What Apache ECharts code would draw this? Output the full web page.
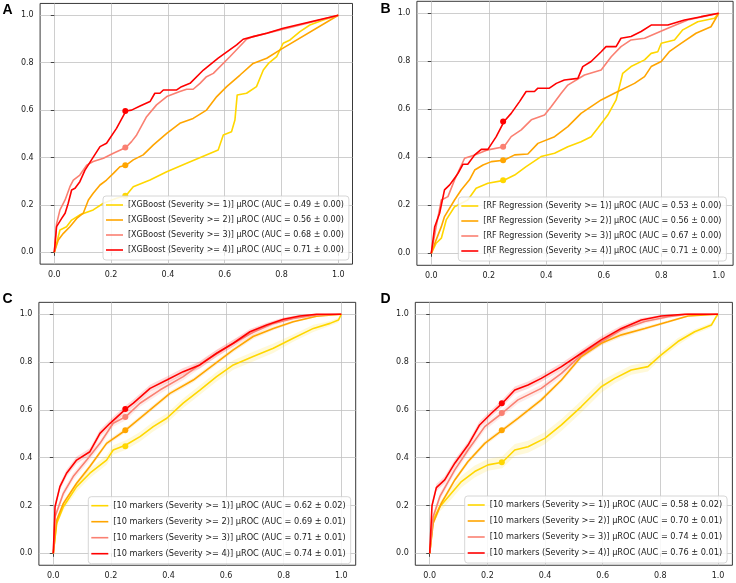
<!DOCTYPE html>
<html><head><meta charset="utf-8">
<script src="https://cdn.jsdelivr.net/npm/echarts@6/dist/echarts.min.js"></script>
<style>html,body{margin:0;padding:0;background:#fff}#c{width:736px;height:583px}</style>
</head><body><div id="c"></div>
<script>
// ---------- DATA ----------
const TICKS = [0, 0.2, 0.4, 0.6, 0.8, 1.0];
const OP_X = 0.25; // operating point x (FPR)

// Panel A: XGBoost
const A_labels = [
  '[XGBoost (Severity >= 1)] µROC (AUC = 0.49 ± 0.00)',
  '[XGBoost (Severity >= 2)] µROC (AUC = 0.56 ± 0.00)',
  '[XGBoost (Severity >= 3)] µROC (AUC = 0.68 ± 0.00)',
  '[XGBoost (Severity >= 4)] µROC (AUC = 0.71 ± 0.00)'
];
const A_sev1 = [[0,0],[0.02,0.094],[0.043,0.108],[0.061,0.136],[0.09,0.158],[0.137,0.179],[0.173,0.207],[0.219,0.228],[0.252,0.239],[0.278,0.277],[0.337,0.305],[0.396,0.34],[0.466,0.376],[0.577,0.432],[0.595,0.495],[0.624,0.509],[0.636,0.558],[0.644,0.664],[0.677,0.671],[0.712,0.699],[0.736,0.769],[0.754,0.797],[0.783,0.826],[0.806,0.882],[0.83,0.896],[0.865,0.931],[0.9,0.959],[0.947,0.98],[1,1]];
const A_sev2 = [[0,0],[0.014,0.052],[0.032,0.08],[0.055,0.108],[0.079,0.143],[0.102,0.165],[0.12,0.221],[0.137,0.249],[0.161,0.284],[0.184,0.305],[0.208,0.333],[0.231,0.361],[0.252,0.367],[0.278,0.39],[0.313,0.411],[0.349,0.453],[0.396,0.502],[0.442,0.544],[0.489,0.565],[0.536,0.6],[0.572,0.657],[0.607,0.699],[0.654,0.748],[0.7,0.797],[0.748,0.819],[0.795,0.854],[1,1]];
const A_sev3 = [[0,0],[0.008,0.12],[0.02,0.179],[0.038,0.221],[0.055,0.277],[0.067,0.305],[0.09,0.326],[0.114,0.368],[0.137,0.383],[0.173,0.397],[0.208,0.418],[0.252,0.442],[0.272,0.467],[0.29,0.495],[0.325,0.572],[0.36,0.622],[0.396,0.657],[0.442,0.678],[0.466,0.688],[0.489,0.688],[0.513,0.713],[0.536,0.741],[0.56,0.755],[0.619,0.826],[0.677,0.899],[0.7,0.91],[0.982,0.994],[1,1]];
const A_sev4 = [[0,0],[0.008,0.108],[0.026,0.143],[0.038,0.165],[0.049,0.207],[0.061,0.263],[0.073,0.27],[0.09,0.298],[0.108,0.347],[0.131,0.39],[0.161,0.446],[0.184,0.46],[0.219,0.523],[0.252,0.596],[0.272,0.6],[0.302,0.617],[0.337,0.636],[0.354,0.671],[0.372,0.671],[0.384,0.685],[0.431,0.685],[0.448,0.699],[0.478,0.713],[0.525,0.769],[0.577,0.819],[0.642,0.875],[0.665,0.899],[0.7,0.91],[0.748,0.924],[0.806,0.945],[1,1]];
const A_dots = [0.239, 0.367, 0.442, 0.596];

// Panel B: RF Regression
const B_labels = [
  '[RF Regression (Severity >= 1)] µROC (AUC = 0.53 ± 0.00)',
  '[RF Regression (Severity >= 2)] µROC (AUC = 0.56 ± 0.00)',
  '[RF Regression (Severity >= 3)] µROC (AUC = 0.67 ± 0.00)',
  '[RF Regression (Severity >= 4)] µROC (AUC = 0.71 ± 0.00)'
];
const B_sev1 = [[0,0],[0.017,0.042],[0.035,0.063],[0.052,0.139],[0.081,0.194],[0.127,0.222],[0.156,0.271],[0.197,0.292],[0.253,0.304],[0.29,0.326],[0.33,0.361],[0.382,0.403],[0.429,0.417],[0.475,0.444],[0.521,0.465],[0.556,0.486],[0.579,0.521],[0.614,0.576],[0.643,0.639],[0.666,0.75],[0.695,0.778],[0.742,0.806],[0.765,0.833],[0.788,0.84],[0.8,0.875],[0.846,0.889],[0.875,0.931],[0.927,0.965],[0.985,0.979],[1,1]];
const B_sev2 = [[0,0],[0.017,0.056],[0.035,0.111],[0.046,0.153],[0.081,0.222],[0.104,0.264],[0.133,0.306],[0.151,0.347],[0.18,0.368],[0.209,0.382],[0.253,0.388],[0.29,0.41],[0.336,0.414],[0.371,0.458],[0.429,0.486],[0.475,0.528],[0.521,0.583],[0.556,0.611],[0.591,0.639],[0.637,0.667],[0.707,0.708],[0.742,0.736],[0.765,0.778],[0.8,0.799],[0.828,0.84],[0.869,0.875],[0.921,0.917],[0.973,0.944],[1,1]];
const B_sev3 = [[0,0],[0.017,0.111],[0.035,0.222],[0.058,0.236],[0.081,0.306],[0.116,0.396],[0.151,0.41],[0.197,0.431],[0.253,0.444],[0.278,0.486],[0.313,0.514],[0.348,0.556],[0.394,0.576],[0.417,0.611],[0.452,0.667],[0.475,0.701],[0.533,0.743],[0.591,0.764],[0.626,0.819],[0.66,0.861],[0.695,0.889],[0.742,0.896],[0.823,0.938],[0.892,0.972],[1,1]];
const B_sev4 = [[0,0],[0.012,0.111],[0.029,0.167],[0.046,0.264],[0.064,0.285],[0.081,0.313],[0.093,0.333],[0.11,0.371],[0.127,0.371],[0.151,0.41],[0.174,0.433],[0.197,0.433],[0.226,0.486],[0.253,0.549],[0.278,0.583],[0.307,0.632],[0.33,0.674],[0.359,0.674],[0.371,0.688],[0.411,0.688],[0.435,0.708],[0.463,0.722],[0.51,0.729],[0.527,0.778],[0.556,0.799],[0.591,0.84],[0.608,0.861],[0.643,0.861],[0.66,0.896],[0.695,0.903],[0.73,0.924],[0.765,0.951],[0.823,0.951],[0.881,0.972],[0.939,0.986],[1,1]];
const B_dots = [0.304, 0.388, 0.444, 0.549];

// Panel C: 10 markers
const C_labels = [
  '[10 markers (Severity >= 1)] µROC (AUC = 0.62 ± 0.02)',
  '[10 markers (Severity >= 2)] µROC (AUC = 0.69 ± 0.01)',
  '[10 markers (Severity >= 3)] µROC (AUC = 0.71 ± 0.01)',
  '[10 markers (Severity >= 4)] µROC (AUC = 0.74 ± 0.01)'
];
const C_sev1 = [[0,0],[0.012,0.126],[0.035,0.195],[0.081,0.279],[0.127,0.335],[0.185,0.39],[0.208,0.432],[0.252,0.453],[0.301,0.488],[0.347,0.53],[0.394,0.565],[0.451,0.628],[0.509,0.683],[0.567,0.739],[0.625,0.788],[0.694,0.823],[0.764,0.858],[0.833,0.9],[0.903,0.941],[0.961,0.962],[0.99,0.976],[1,1]];
const C_sev1_sd = [0,0.01,0.015,0.02,0.02,0.02,0.02,0.02,0.02,0.02,0.02,0.02,0.02,0.02,0.02,0.02,0.02,0.015,0.015,0.01,0.01,0];
const C_sev2 = [[0,0],[0.012,0.139],[0.035,0.209],[0.081,0.293],[0.127,0.363],[0.185,0.46],[0.252,0.516],[0.336,0.6],[0.405,0.669],[0.486,0.725],[0.556,0.788],[0.625,0.851],[0.694,0.907],[0.764,0.941],[0.833,0.969],[0.914,0.992],[1,1]];
const C_sev2_sd = [0,0.01,0.01,0.01,0.01,0.01,0.01,0.01,0.01,0.01,0.01,0.01,0.01,0.008,0.005,0.003,0];
const C_sev3 = [[0,0],[0.006,0.153],[0.035,0.251],[0.069,0.321],[0.116,0.39],[0.162,0.46],[0.208,0.544],[0.252,0.572],[0.301,0.628],[0.37,0.683],[0.451,0.739],[0.532,0.809],[0.625,0.879],[0.694,0.925],[0.764,0.962],[0.833,0.983],[0.914,0.997],[1,1]];
const C_sev3_sd = [0,0.015,0.015,0.015,0.015,0.015,0.015,0.015,0.015,0.015,0.015,0.015,0.015,0.015,0.01,0.008,0.003,0];
const C_sev4 = [[0,0],[0.006,0.195],[0.023,0.279],[0.046,0.335],[0.081,0.39],[0.127,0.425],[0.162,0.502],[0.197,0.544],[0.252,0.604],[0.278,0.628],[0.336,0.69],[0.394,0.725],[0.451,0.76],[0.509,0.788],[0.567,0.837],[0.625,0.879],[0.683,0.927],[0.741,0.955],[0.799,0.979],[0.856,0.993],[0.914,1],[1,1]];
const C_sev4_sd = [0,0.015,0.015,0.015,0.015,0.015,0.015,0.015,0.015,0.015,0.015,0.015,0.015,0.015,0.015,0.015,0.012,0.01,0.008,0.005,0.002,0];
const C_dots = [0.448, 0.515, 0.57, 0.604];

// Panel D: 10 markers
const D_labels = [
  '[10 markers (Severity >= 1)] µROC (AUC = 0.58 ± 0.02)',
  '[10 markers (Severity >= 2)] µROC (AUC = 0.70 ± 0.01)',
  '[10 markers (Severity >= 3)] µROC (AUC = 0.74 ± 0.01)',
  '[10 markers (Severity >= 4)] µROC (AUC = 0.76 ± 0.01)'
];
const D_sev1 = [[0,0],[0.012,0.139],[0.035,0.195],[0.075,0.251],[0.11,0.3],[0.156,0.342],[0.202,0.37],[0.252,0.381],[0.295,0.432],[0.341,0.446],[0.399,0.481],[0.457,0.537],[0.526,0.614],[0.595,0.697],[0.642,0.732],[0.699,0.767],[0.757,0.781],[0.803,0.83],[0.861,0.886],[0.919,0.927],[0.977,0.955],[0.994,0.99],[1,1]];
const D_sev1_sd = [0,0.02,0.02,0.025,0.025,0.025,0.025,0.025,0.025,0.025,0.025,0.025,0.025,0.025,0.02,0.02,0.02,0.015,0.015,0.01,0.01,0.005,0];
const D_sev2 = [[0,0],[0.012,0.126],[0.04,0.209],[0.087,0.307],[0.133,0.384],[0.191,0.46],[0.252,0.515],[0.306,0.565],[0.387,0.642],[0.457,0.725],[0.526,0.823],[0.595,0.879],[0.665,0.914],[0.746,0.941],[0.827,0.969],[0.896,0.993],[1,1]];
const D_sev2_sd = [0,0.01,0.01,0.01,0.01,0.01,0.01,0.01,0.01,0.01,0.01,0.01,0.01,0.008,0.005,0.003,0];
const D_sev3 = [[0,0],[0.012,0.153],[0.035,0.237],[0.087,0.349],[0.133,0.432],[0.191,0.53],[0.252,0.587],[0.306,0.642],[0.387,0.69],[0.457,0.753],[0.526,0.83],[0.595,0.885],[0.665,0.935],[0.746,0.97],[0.827,0.99],[0.896,1],[1,1]];
const D_sev3_sd = [0,0.015,0.015,0.015,0.015,0.015,0.015,0.015,0.015,0.015,0.015,0.015,0.012,0.01,0.005,0.002,0];
const D_sev4 = [[0,0],[0.008,0.2],[0.023,0.275],[0.052,0.307],[0.087,0.377],[0.133,0.453],[0.173,0.537],[0.214,0.586],[0.252,0.628],[0.295,0.683],[0.341,0.704],[0.387,0.732],[0.457,0.781],[0.526,0.837],[0.595,0.893],[0.665,0.941],[0.734,0.976],[0.803,0.993],[0.884,1],[1,1]];
const D_sev4_sd = [0,0.015,0.015,0.015,0.015,0.015,0.015,0.015,0.015,0.015,0.015,0.015,0.015,0.015,0.015,0.012,0.008,0.004,0.002,0];
const D_dots = [0.381, 0.515, 0.587, 0.628];

// ---------- STYLE / LAYOUT ----------
const COLORS = ['#FFD700', '#FFA500', '#FA8072', '#FF0000'];
const FONT = 'DejaVu Sans';

const panels = [
  { tag:'A', tagPos:[2.5,3], labels:A_labels, curves:[A_sev1,A_sev2,A_sev3,A_sev4], sds:null, dots:A_dots,
    grid:{left:40.1, top:3.45, width:312.4, height:260.7}, legend:{left:103, top:196, gap:5, fs:8} },
  { tag:'B', tagPos:[380.5,2], labels:B_labels, curves:[B_sev1,B_sev2,B_sev3,B_sev4], sds:null, dots:B_dots,
    grid:{left:416.9, top:1.3, width:316.2, height:264}, legend:{left:458.3, top:197, gap:5, fs:8} },
  { tag:'C', tagPos:[2.5,292], labels:C_labels, curves:[C_sev1,C_sev2,C_sev3,C_sev4], sds:[C_sev1_sd,C_sev2_sd,C_sev3_sd,C_sev4_sd], dots:C_dots,
    grid:{left:38.9, top:302.35, width:316.8, height:262.9}, legend:{left:88.3, top:496.7, gap:6, fs:8.2} },
  { tag:'D', tagPos:[380.5,292], labels:D_labels, curves:[D_sev1,D_sev2,D_sev3,D_sev4], sds:[D_sev1_sd,D_sev2_sd,D_sev3_sd,D_sev4_sd], dots:D_dots,
    grid:{left:415.3, top:302.35, width:317.1, height:262.9}, legend:{left:464.7, top:496, gap:6, fs:8.2} }
];

const option = { animation:false, title:[], grid:[], xAxis:[], yAxis:[], legend:[], series:[] };

function axisCommon(i) {
  return {
    type:'value', gridIndex:i, min:-0.05, max:1.05,
    axisLine:{show:false},
    axisTick:{show:true, customValues:TICKS, length:3.5, lineStyle:{color:'#222', width:0.8}},
    axisLabel:{customValues:TICKS, formatter:v=>v.toFixed(1), fontSize:8, fontFamily:FONT, color:'#222', margin:6.5},
    splitLine:{show:true, lineStyle:{color:'#c2c2c2', width:0.8}}
  };
}

panels.forEach((p, i) => {
  option.title.push({ text:p.tag, left:p.tagPos[0], top:p.tagPos[1], padding:0,
    textStyle:{ fontSize:14, fontWeight:'bold', fontFamily:'Liberation Sans', color:'#000' } });
  option.grid.push(Object.assign({ show:true, borderColor:'#222', borderWidth:0.9, backgroundColor:'transparent' }, p.grid));
  option.xAxis.push(axisCommon(i));
  option.yAxis.push(axisCommon(i));
  option.legend.push({
    data:p.labels, left:p.legend.left, top:p.legend.top, orient:'vertical',
    icon:'rect', itemWidth:17, itemHeight:1.6, itemGap:p.legend.gap,
    textStyle:{ fontSize:p.legend.fs, fontFamily:FONT, color:'#222', lineHeight:10 },
    backgroundColor:'rgba(255,255,255,0.85)', borderColor:'#cccccc', borderWidth:0.8, borderRadius:3,
    padding:[4,5,5,3], selectedMode:false
  });
  // confidence bands
  if (p.sds) {
    p.curves.forEach((c, k) => {
      const rows = c.map((pt, j) => [pt[0], pt[1] - p.sds[k][j], pt[1] + p.sds[k][j]]);
      option.series.push({
        type:'custom', name:p.tag + '_band' + k, xAxisIndex:i, yAxisIndex:i, silent:true,
        data:rows, encode:{x:0, y:[1,2]}, clip:true, z:1,
        renderItem:function(params, api) {
          if (params.dataIndex !== 0) return null;
          const upper = rows.map(r => api.coord([r[0], r[2]]));
          const lower = rows.map(r => api.coord([r[0], r[1]])).reverse();
          return { type:'polygon', shape:{ points: upper.concat(lower) },
                   style:{ fill:COLORS[k], opacity:0.15 } };
        }
      });
    });
  }
  // curves + operating point
  p.curves.forEach((c, k) => {
    option.series.push({
      type:'line', name:p.labels[k], xAxisIndex:i, yAxisIndex:i, data:c,
      symbol:'none', showSymbol:false, z:2 + k,
      lineStyle:{ color:COLORS[k], width:1.6 }, itemStyle:{ color:COLORS[k] }
    });
    option.series.push({
      type:'scatter', name:p.tag + '_op' + k, xAxisIndex:i, yAxisIndex:i,
      data:[[OP_X, p.dots[k]]], symbol:'circle', symbolSize:6, z:2 + k, silent:true,
      itemStyle:{ color:COLORS[k], opacity:1 }
    });
  });
});

const chart = echarts.init(document.getElementById('c'), null, { renderer:'canvas' });
chart.setOption(option);
</script>
</body></html>
